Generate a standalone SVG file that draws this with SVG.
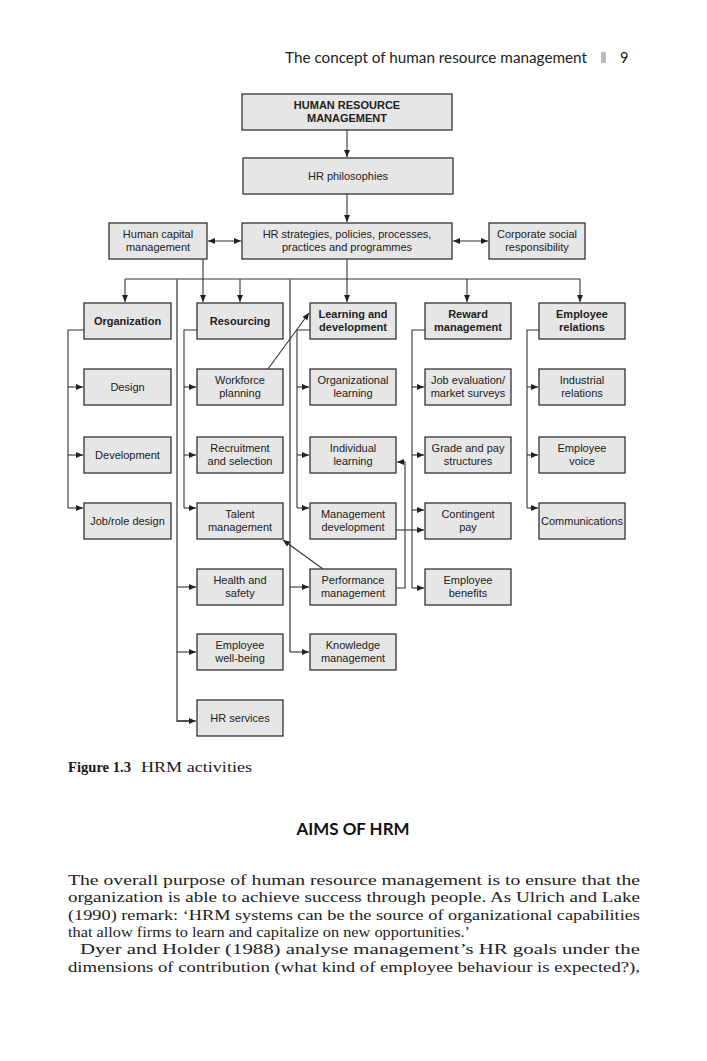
<svg xmlns="http://www.w3.org/2000/svg" width="707" height="1061" viewBox="0 0 707 1061">
<defs>
<marker id="ah" markerUnits="userSpaceOnUse" markerWidth="8" markerHeight="7" refX="7" refY="3" orient="auto-start-reverse">
<path d="M0,0 L7,3 L0,6 z" fill="#222"/>
</marker>
<style>
.box{fill:#e6e6e6;stroke:#333;stroke-width:1.3}
.t{font-family:"Liberation Sans",Arial,sans-serif;font-size:11px;fill:#222;text-anchor:middle}
.b{font-weight:bold}
.c{fill:none;stroke:#333;stroke-width:1.1}
.g{fill:none;stroke:#777;stroke-width:1.8}
.a{marker-end:url(#ah)}
.serif{font-family:"Liberation Serif","Times New Roman",serif;fill:#1a1a1a}
.body{font-family:"Liberation Serif","Times New Roman",serif;font-size:14.3px;fill:#222}
</style>
</defs>
<rect width="707" height="1061" fill="#fff"/>
<g id="header">
<text x="285" y="63" font-family="Lato,'Liberation Sans',sans-serif" font-size="14.5" fill="#222" textLength="302" lengthAdjust="spacingAndGlyphs">The concept of human resource management</text>
<rect x="601" y="52" width="5" height="11" fill="#bbb"/>
<text x="620" y="63" font-family="Lato,'Liberation Sans',sans-serif" font-size="14.5" fill="#222">9</text>
</g>
<g id="connectors">
<path class="c a" d="M347,130 V157"/>
<path class="c a" d="M347,194 V222"/>
<path class="c a" d="M347,259 V302"/>
<path class="c" d="M208,241 H241" marker-start="url(#ah)" marker-end="url(#ah)"/>
<path class="c" d="M453,241 H488" marker-start="url(#ah)" marker-end="url(#ah)"/>
<path class="c" d="M125,279 H580"/>
<path class="c a" d="M125,279 V302"/>
<path class="c a" d="M240,279 V302"/>
<path class="c a" d="M467,279 V302"/>
<path class="c a" d="M580,279 V302"/>
<path class="c a" d="M203,259 V302"/>
<path class="g" d="M177,279 V721 H190"/>
<path class="c a" d="M177,721 H196"/>
<path class="c a" d="M177,587 H196"/>
<path class="c a" d="M177,652 H196"/>
<path class="g" d="M290,279 V652"/>
<path class="c a" d="M290,587 H309"/>
<path class="c a" d="M290,652 H309"/>
<path class="c" d="M84,330 H68 V508"/>
<path class="c a" d="M68,387 H83"/>
<path class="c a" d="M68,455 H83"/>
<path class="c a" d="M68,508 H83"/>
<path class="c" d="M197,330 H184 V508"/>
<path class="c a" d="M184,387 H196"/>
<path class="c a" d="M184,455 H196"/>
<path class="c a" d="M184,508 H196"/>
<path class="c" d="M310,330 H297 V508"/>
<path class="c a" d="M297,387 H309"/>
<path class="c a" d="M297,455 H309"/>
<path class="c a" d="M297,508 H309"/>
<path class="c" d="M425,330 H412 V588"/>
<path class="c a" d="M412,387 H424"/>
<path class="c a" d="M412,455 H424"/>
<path class="c a" d="M412,510 H424"/>
<path class="c a" d="M412,588 H424"/>
<path class="c" d="M539,330 H527 V508"/>
<path class="c a" d="M527,387 H538"/>
<path class="c a" d="M527,455 H538"/>
<path class="c a" d="M527,508 H538"/>
<path class="c a" d="M396,530 H424"/>
<path class="c a" d="M396,588 H405 V462 H397"/>
<path class="c a" d="M268,369 L309,313"/>
<path class="c a" d="M323,569 L283,540"/>
</g>
<g id="n-hrm"><rect class="box" x="242" y="94" width="210" height="36"/><text class="t b" x="347" y="109">HUMAN RESOURCE</text><text class="t b" x="347" y="122">MANAGEMENT</text></g>
<g id="n-phil"><rect class="box" x="243" y="158" width="210" height="36"/><text class="t" x="348" y="180">HR philosophies</text></g>
<g id="n-strat"><rect class="box" x="242" y="223" width="210" height="36"/><text class="t" x="347" y="238">HR strategies, policies, processes,</text><text class="t" x="347" y="251">practices and programmes</text></g>
<g id="n-hcm"><rect class="box" x="109" y="223" width="98" height="36"/><text class="t" x="158" y="238">Human capital</text><text class="t" x="158" y="251">management</text></g>
<g id="n-csr"><rect class="box" x="489" y="223" width="96" height="36"/><text class="t" x="537" y="238">Corporate social</text><text class="t" x="537" y="251">responsibility</text></g>
<g id="n-org"><rect class="box" x="84" y="303" width="87" height="36"/><text class="t b" x="127.5" y="325">Organization</text></g>
<g id="n-res"><rect class="box" x="197" y="303" width="86" height="36"/><text class="t b" x="240" y="325">Resourcing</text></g>
<g id="n-ld"><rect class="box" x="310" y="303" width="86" height="36"/><text class="t b" x="353" y="318">Learning and</text><text class="t b" x="353" y="331">development</text></g>
<g id="n-rew"><rect class="box" x="425" y="303" width="86" height="36"/><text class="t b" x="468" y="318">Reward</text><text class="t b" x="468" y="331">management</text></g>
<g id="n-er"><rect class="box" x="539" y="303" width="86" height="36"/><text class="t b" x="582" y="318">Employee</text><text class="t b" x="582" y="331">relations</text></g>
<g id="n-design"><rect class="box" x="84" y="369" width="87" height="36"/><text class="t" x="127.5" y="391">Design</text></g>
<g id="n-wp"><rect class="box" x="197" y="369" width="86" height="36"/><text class="t" x="240" y="384">Workforce</text><text class="t" x="240" y="397">planning</text></g>
<g id="n-ol"><rect class="box" x="310" y="369" width="86" height="36"/><text class="t" x="353" y="384">Organizational</text><text class="t" x="353" y="397">learning</text></g>
<g id="n-je"><rect class="box" x="425" y="369" width="86" height="36"/><text class="t" x="468" y="384">Job evaluation/</text><text class="t" x="468" y="397">market surveys</text></g>
<g id="n-ir"><rect class="box" x="539" y="369" width="86" height="36"/><text class="t" x="582" y="384">Industrial</text><text class="t" x="582" y="397">relations</text></g>
<g id="n-dev"><rect class="box" x="84" y="437" width="87" height="36"/><text class="t" x="127.5" y="459">Development</text></g>
<g id="n-rs"><rect class="box" x="197" y="437" width="86" height="36"/><text class="t" x="240" y="452">Recruitment</text><text class="t" x="240" y="465">and selection</text></g>
<g id="n-il"><rect class="box" x="310" y="437" width="86" height="36"/><text class="t" x="353" y="452">Individual</text><text class="t" x="353" y="465">learning</text></g>
<g id="n-gp"><rect class="box" x="425" y="437" width="86" height="36"/><text class="t" x="468" y="452">Grade and pay</text><text class="t" x="468" y="465">structures</text></g>
<g id="n-ev"><rect class="box" x="539" y="437" width="86" height="36"/><text class="t" x="582" y="452">Employee</text><text class="t" x="582" y="465">voice</text></g>
<g id="n-jrd"><rect class="box" x="84" y="503" width="87" height="36"/><text class="t" x="127.5" y="525">Job/role design</text></g>
<g id="n-tm"><rect class="box" x="197" y="503" width="86" height="36"/><text class="t" x="240" y="518">Talent</text><text class="t" x="240" y="531">management</text></g>
<g id="n-md"><rect class="box" x="310" y="503" width="86" height="36"/><text class="t" x="353" y="518">Management</text><text class="t" x="353" y="531">development</text></g>
<g id="n-cp"><rect class="box" x="425" y="503" width="86" height="36"/><text class="t" x="468" y="518">Contingent</text><text class="t" x="468" y="531">pay</text></g>
<g id="n-com"><rect class="box" x="539" y="503" width="86" height="36"/><text class="t" x="582" y="525">Communications</text></g>
<g id="n-hs"><rect class="box" x="197" y="569" width="86" height="36"/><text class="t" x="240" y="584">Health and</text><text class="t" x="240" y="597">safety</text></g>
<g id="n-pm"><rect class="box" x="310" y="569" width="86" height="36"/><text class="t" x="353" y="584">Performance</text><text class="t" x="353" y="597">management</text></g>
<g id="n-eb"><rect class="box" x="425" y="569" width="86" height="36"/><text class="t" x="468" y="584">Employee</text><text class="t" x="468" y="597">benefits</text></g>
<g id="n-ewb"><rect class="box" x="197" y="634" width="86" height="36"/><text class="t" x="240" y="649">Employee</text><text class="t" x="240" y="662">well-being</text></g>
<g id="n-km"><rect class="box" x="310" y="634" width="86" height="36"/><text class="t" x="353" y="649">Knowledge</text><text class="t" x="353" y="662">management</text></g>
<g id="n-hrs"><rect class="box" x="197" y="700" width="86" height="36"/><text class="t" x="240" y="722">HR services</text></g>
<g id="caption">
<text class="serif" x="68" y="772" font-size="14.5" font-weight="bold" textLength="63" lengthAdjust="spacingAndGlyphs">Figure 1.3</text>
<text class="serif" x="141" y="772" font-size="14" textLength="111" lengthAdjust="spacingAndGlyphs">HRM activities</text>
</g>
<g id="heading">
<text x="353" y="835" font-family="Lato,'Liberation Sans',sans-serif" font-size="17" font-weight="bold" fill="#111" text-anchor="middle" textLength="113" lengthAdjust="spacingAndGlyphs">AIMS OF HRM</text>
</g>
<g id="body">
<text class="body" x="68" y="885" textLength="572" lengthAdjust="spacingAndGlyphs">The overall purpose of human resource management is to ensure that the</text>
<text class="body" x="68" y="902" textLength="572" lengthAdjust="spacingAndGlyphs">organization is able to achieve success through people. As Ulrich and Lake</text>
<text class="body" x="68" y="920" textLength="572" lengthAdjust="spacingAndGlyphs">(1990) remark: ‘HRM systems can be the source of organizational capabilities</text>
<text class="body" x="68" y="937" textLength="402" lengthAdjust="spacingAndGlyphs">that allow firms to learn and capitalize on new opportunities.’</text>
<text class="body" x="80" y="954" textLength="560" lengthAdjust="spacingAndGlyphs">Dyer and Holder (1988) analyse management’s HR goals under the</text>
<text class="body" x="68" y="972" textLength="572" lengthAdjust="spacingAndGlyphs">dimensions of contribution (what kind of employee behaviour is expected?),</text>
</g>
</svg>
